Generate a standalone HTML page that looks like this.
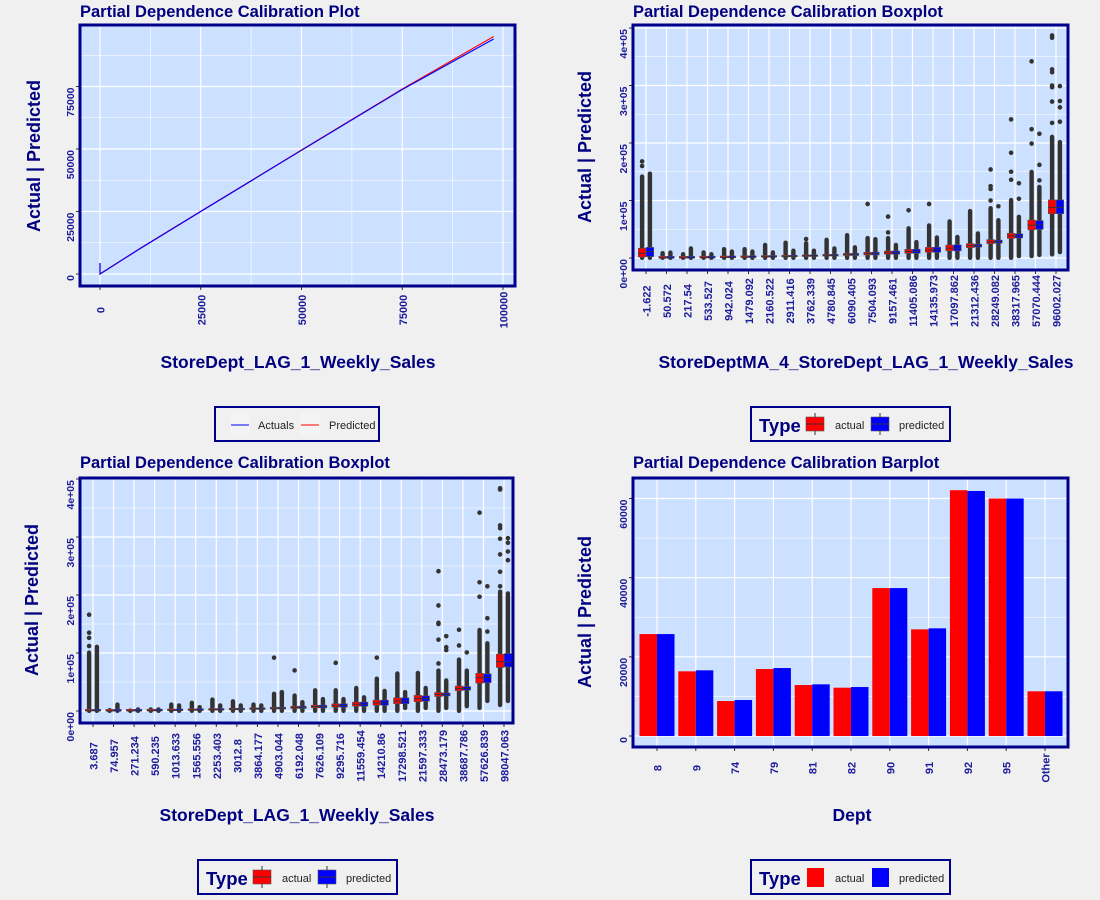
<!DOCTYPE html>
<html><head><meta charset="utf-8">
<style>
html,body{margin:0;padding:0;background:#f0f0f0;}
svg{display:block;font-family:"Liberation Sans",sans-serif;}
</style></head>
<body>
<svg id="chart" width="1100" height="900" viewBox="0 0 1100 900" xmlns="http://www.w3.org/2000/svg"></svg>
<script>
// ---------- Top-left line chart data ----------
const tlX = [0, 0, 10000, 25000, 50000, 75000, 97700];
const tlActual = [4400, 0, 10200, 25000, 49500, 73800, 94000];
const tlPredicted = [4400, 0, 10300, 25100, 49600, 74000, 95000];
const tlXTicks = [0, 25000, 50000, 75000, 100000];
const tlYTicks = [0, 25000, 50000, 75000];

// ---------- Top-right boxplot data ----------
const trCats = ["-1.622","50.572","217.54","533.527","942.024","1479.092","2160.522","2911.416","3762.339","4780.845","6090.405","7504.093","9157.461","11405.086","14135.973","17097.862","21312.436","28249.082","38317.965","57070.444","96002.027"];
const trAQ1 = [1700,20,100,300,600,1000,1500,2000,2700,3500,4400,5400,6600,8200,10000,12500,18000,25000,34000,49000,77000];
const trAMed = [8000,50,220,530,940,1480,2160,2910,3760,4780,6090,7500,9160,11400,14100,17100,21300,28200,38300,57000,88000];
const trAQ3 = [17000,100,350,800,1300,2000,2900,3900,5000,6300,8000,9900,12000,15000,18500,22500,25000,32000,43000,66000,101000];
const trALo = [0,0,0,0,0,0,0,0,0,0,0,0,0,0,0,0,0,0,0,3000,6000];
const trAHi = [142000,8700,7000,10000,15600,15600,23000,27000,26000,32000,40000,35000,35000,52000,57000,64000,82000,87000,101000,150000,211000];
const trAOut = [[0,168000],[0,160000],[8,33000],[11,94000],[12,44500],[12,72000],[13,83000],[14,94000],[17,100000],[17,120000],[17,125000],[17,154000],[18,136000],[18,150000],[18,183000],[18,241000],[19,199000],[19,224000],[19,342000],[20,235000],[20,272000],[20,297000],[20,300000],[20,323000],[20,328000],[20,383000],[20,387000]];
const trPQ1 = [2500,20,100,300,600,1000,1500,2000,2700,3500,4400,5400,6600,8200,10000,12500,19000,26000,35000,50000,77000];
const trPMed = [11000,60,230,540,950,1500,2200,2950,3800,4800,6100,7600,9200,11500,14200,17200,21500,28500,38500,57500,88000];
const trPQ3 = [18500,110,360,820,1350,2050,2950,3950,5100,6400,8100,10000,12100,15200,18700,22700,24000,31000,42000,65000,101000];
const trPLo = [0,0,0,0,0,0,0,0,0,0,0,0,0,0,0,0,0,0,3000,5000,10000];
const trPHi = [147000,9800,17000,7000,11500,11500,10000,13000,13000,17000,19000,33000,23000,28000,36000,37000,43000,66000,72000,124000,202000];
const trPOut = [[17,90000],[18,103000],[18,130000],[19,135000],[19,162000],[19,216000],[20,237000],[20,262000],[20,273000],[20,299000]];
const boxYTicks = [0,100000,200000,300000,400000];
const boxYLabels = ["0e+00","1e+05","2e+05","3e+05","4e+05"];

// ---------- Bottom-left boxplot data ----------
const blCats = ["3.687","74.957","271.234","590.235","1013.633","1565.556","2253.403","3012.8","3864.177","4903.044","6192.048","7626.109","9295.716","11559.454","14210.86","17298.521","21597.333","28473.179","38687.786","57626.839","98047.063"];
const blAQ1 = [100,30,120,300,600,1000,1500,2000,2700,3500,4400,5500,6700,8300,10000,12600,16000,25000,35000,48000,75000];
const blAMed = [500,75,270,590,1010,1570,2250,3010,3860,4900,6190,7630,9300,11560,14210,17300,21600,28500,38700,57600,85000];
const blAQ3 = [1500,120,400,850,1400,2100,3000,4000,5100,6500,8200,10000,12300,15300,18700,22700,27000,32000,43000,65000,98000];
const blALo = [0,0,0,0,0,0,0,0,0,0,0,0,0,0,0,0,0,0,0,5000,10000];
const blAHi = [101000,1700,1000,3000,11500,14500,20000,17000,11500,30000,27000,36000,36000,40000,56000,65000,66000,70000,89000,140000,206000];
const blAOut = [[0,112000],[0,126000],[0,135000],[0,166000],[9,92000],[10,70000],[12,83000],[14,92000],[17,82000],[17,123000],[17,150000],[17,152000],[17,182000],[17,241000],[18,113000],[18,140000],[19,197000],[19,222000],[19,342000],[20,215000],[20,240000],[20,270000],[20,297000],[20,315000],[20,320000],[20,382000],[20,384000]];
const blPQ1 = [100,30,120,300,600,1000,1500,2000,2700,3500,4400,5500,6700,8300,10000,12600,17000,26000,36000,49000,76000];
const blPMed = [600,80,280,600,1020,1580,2260,3020,3870,4910,6200,7640,9310,11570,14220,17310,21610,28600,38800,57700,84000];
const blPQ3 = [1600,130,410,860,1410,2110,3010,4010,5110,6510,8210,10010,12310,15310,18710,22710,26000,31000,42000,64000,99000];
const blPLo = [0,0,0,0,0,0,0,0,0,0,0,0,0,0,0,5000,5000,5000,8000,17000,17000];
const blPHi = [111000,11500,3000,3000,10000,7000,10000,10000,10000,33000,15600,21000,21000,24000,35000,33000,40000,53000,70000,117000,203000];
const blPOut = [[9,32000],[17,105000],[17,110000],[17,129000],[18,101000],[19,137000],[19,160000],[19,215000],[20,260000],[20,275000],[20,290000],[20,298000]];

// ---------- Bottom-right barplot data ----------
const brCats = ["8","9","74","79","81","82","90","91","92","95","Other"];
const brActual = [25750,16340,8840,16920,12880,12200,37370,26940,62100,60000,11290];
const brPredicted = [25750,16590,9090,17170,13050,12370,37370,27200,61900,60000,11290];
const brYTicks = [0,20000,40000,60000];

const NS = 'http://www.w3.org/2000/svg';
const svg = document.getElementById('chart');
function mk(tag, attrs, parent){
  const e = document.createElementNS(NS, tag);
  for (const k in attrs) e.setAttribute(k, attrs[k]);
  (parent || svg).appendChild(e);
  return e;
}
function txt(s, attrs, parent){ const e = mk('text', attrs, parent); e.textContent = s; return e; }
function lin(d0,d1,r0,r1){ return v => r0 + (v-d0)/(d1-d0)*(r1-r0); }
const NAVY = '#0a0a80';
const TICKC = '#1c1c9c';

function panelBase(name, r, title, ytitle, ytx, yty, xtitle, xtx, xty){
  const g = mk('g', {});
  
  
  const bg = mk('rect', {x:r.x, y:r.y, width:r.w, height:r.h, fill:'#cce0ff'}, g);
  
  
  const t = txt(title, {x:r.x, y:r.ty, 'font-size':16.5, 'font-weight':'bold', fill:'#000080'}, g);
  
  
  const yt = txt(ytitle, {x:ytx, y:yty, 'font-size':18, 'font-weight':'bold', fill:'#000080', 'text-anchor':'middle', transform:`rotate(-90 ${ytx} ${yty})`}, g);
  
  
  const xt = txt(xtitle, {x:xtx, y:xty, 'font-size':17.5, 'font-weight':'bold', fill:'#000080', 'text-anchor':'middle'}, g);
  
  
  return g;
}
function hgrid(g, r, y, major){
  const l = mk('line', {x1:r.x, x2:r.x+r.w, y1:y, y2:y, stroke:'#fff', 'stroke-width':major?1.2:0.6}, g);
  
  
}
function vgrid(g, r, x, major){
  const l = mk('line', {x1:x, x2:x, y1:r.y, y2:r.y+r.h, stroke:'#fff', 'stroke-width':major?1.2:0.6}, g);
  
  
}
function ytick(g, r, y, label){
  const tk = mk('line', {x1:r.x-4, x2:r.x, y1:y, y2:y, stroke:'#333', 'stroke-width':1}, g);
  
  
  const bx = r.x - 6;
  const t = txt(label, {x:bx, y:y+1, 'font-size':10.5, 'font-weight':'bold', fill:TICKC, 'text-anchor':'end', transform:`rotate(-90 ${bx} ${y+1})`}, g);
  
  
}
function xtick(g, r, x, label, midY){
  const tk = mk('line', {x1:x, x2:x, y1:r.y+r.h, y2:r.y+r.h+4, stroke:'#333', 'stroke-width':1}, g);
  
  
  const bx = x + 4.5;
  const t = txt(label, {x:bx, y:midY, 'font-size':11, 'font-weight':'bold', fill:TICKC, 'text-anchor':'middle', transform:`rotate(-90 ${bx} ${midY})`}, g);
  
  
}
function border(g, r){
  const b = mk('rect', {x:r.x, y:r.y, width:r.w, height:r.h, fill:'none', stroke:'#00008b', 'stroke-width':3}, g);
  
  
}
function legendBox(x, y, w, h, name){
  const g = mk('g', {});
  
  
  const b = mk('rect', {x:x, y:y, width:w, height:h, fill:'#f0f0f0', stroke:'#00008b', 'stroke-width':2}, g);
  
  
  return g;
}

// ================= TOP LEFT =================
(function(){
  const r = {x:80, y:25, w:435, h:261, ty:17};
  const g = panelBase('line-calibration-panel', r, 'Partial Dependence Calibration Plot', 'Actual | Predicted', 40, 156, 'StoreDept_LAG_1_Weekly_Sales', 298, 368);
  const xS = lin(0, 100000, 100, 503);
  const yS = lin(0, 75000, 274, 86.5);
  [12500,37500,62500,87500].forEach(v => vgrid(g, r, xS(v), false));
  [12500,37500,62500,87500].forEach(v => hgrid(g, r, yS(v), false));
  tlXTicks.forEach(v => vgrid(g, r, xS(v), true));
  tlYTicks.forEach(v => hgrid(g, r, yS(v), true));
  const mkPath = (ys) => tlX.map((x,i) => (i?'L':'M') + xS(x).toFixed(1) + ' ' + yS(ys[i]).toFixed(1)).join(' ');
  const pr = mk('path', {d:mkPath(tlPredicted), fill:'none', stroke:'#ff0000', 'stroke-width':1.2}, g);
  
  
  const ac = mk('path', {d:mkPath(tlActual), fill:'none', stroke:'#0000ff', 'stroke-width':1.1}, g);
  
  
  tlYTicks.forEach(v => ytick(g, r, yS(v), String(v)));
  tlXTicks.forEach(v => xtick(g, r, xS(v), String(v), 310));
  border(g, r);
  const L = legendBox(215, 407, 164, 34, 'line-legend');
  const k1 = mk('rect', {x:230, y:413, width:20, height:22, fill:'#f4f4f4'}, L);
  
  
  mk('line', {x1:231, x2:249, y1:425, y2:425, stroke:'#0000ff', 'stroke-width':1}, L);
  const t1 = txt('Actuals', {x:258, y:429, 'font-size':11, fill:'#222'}, L);
  
  
  const k2 = mk('rect', {x:300, y:413, width:20, height:22, fill:'#f4f4f4'}, L);
  
  
  mk('line', {x1:301, x2:319, y1:425, y2:425, stroke:'#ff0000', 'stroke-width':1}, L);
  const t2 = txt('Predicted', {x:329, y:429, 'font-size':11, fill:'#222'}, L);
  
  
})();

// ================= BOXPLOT helper =================
function drawBoxes(g, cats, cx, yS, series){
  series.forEach(s => {
    cats.forEach((c, i) => {
      const x = cx(i) + s.off;
      const col = mk('rect', {x:x-2.2, y:yS(s.hi[i]) - 2, width:4.4, height:Math.max(2, yS(s.lo[i]) - yS(s.hi[i]) + 4), rx:2.2, fill:'#333'}, g);
      
      
    });
    s.out.forEach(o => {
      const p = mk('circle', {cx:cx(o[0]) + s.off, cy:yS(o[1]), r:2.3, fill:'#333'}, g);
      
      
    });
    cats.forEach((c, i) => {
      const x = cx(i) + s.off;
      const top = yS(s.q3[i]), bot = yS(s.q1[i]);
      const h = Math.max(1.6, bot - top);
      const b = mk('rect', {x:x-3.8, y:bot - h, width:7.6, height:h, fill:s.color, stroke:'#555', 'stroke-width':0.6}, g);
      
      
      const m = mk('line', {x1:x-3.8, x2:x+3.8, y1:yS(s.med[i]), y2:yS(s.med[i]), stroke:'#333', 'stroke-width':1}, g);
      
      
    });
  });
}
function boxLegend(x, y, name){
  const L = legendBox(x, y, 199, 34, name);
  const t = txt('Type', {x:x+8, y:y+25, 'font-size':18.5, 'font-weight':'bold', fill:'#000080'}, L);
  
  
  [['actual','#ff0000',x+55,x+84],['predicted','#0000ff',x+120,x+148]].forEach(e => {
    const kx = e[2];
    mk('line', {x1:kx+9, x2:kx+9, y1:y+6, y2:y+28, stroke:'#333', 'stroke-width':1}, L);
    const k = mk('rect', {x:kx, y:y+10, width:18, height:14, fill:e[1], stroke:'#555', 'stroke-width':0.6}, L);
    
    
    mk('line', {x1:kx, x2:kx+18, y1:y+17, y2:y+17, stroke:'#333', 'stroke-width':1}, L);
    const lt = txt(e[0], {x:e[3], y:y+22, 'font-size':11, fill:'#222'}, L);
    
    
  });
}

// ================= TOP RIGHT =================
(function(){
  const r = {x:633, y:25, w:435, h:245, ty:17};
  const g = panelBase('boxplot-ma4-panel', r, 'Partial Dependence Calibration Boxplot', 'Actual | Predicted', 591, 147, 'StoreDeptMA_4_StoreDept_LAG_1_Weekly_Sales', 866, 368);
  const cx = i => 646 + i * 20.5;
  const yS = lin(0, 400000, 258, 28);
  [50000,150000,250000,350000].forEach(v => hgrid(g, r, yS(v), false));
  boxYTicks.forEach(v => hgrid(g, r, yS(v), true));
  trCats.forEach((c,i) => vgrid(g, r, cx(i), true));
  drawBoxes(g, trCats, cx, yS, [
    {name:'actual', off:-3.9, color:'#ff0000', q1:trAQ1, med:trAMed, q3:trAQ3, lo:trALo, hi:trAHi, out:trAOut},
    {name:'predicted', off:3.9, color:'#0000ff', q1:trPQ1, med:trPMed, q3:trPQ3, lo:trPLo, hi:trPHi, out:trPOut}
  ]);
  boxYTicks.forEach((v,i) => ytick(g, r, yS(v), boxYLabels[i]));
  trCats.forEach((c,i) => xtick(g, r, cx(i), c, 301));
  border(g, r);
  boxLegend(751, 407, 'boxplot-ma4-legend');
})();

// ================= BOTTOM LEFT =================
(function(){
  const r = {x:80, y:478, w:433, h:245, ty:468};
  const g = panelBase('boxplot-lag1-panel', r, 'Partial Dependence Calibration Boxplot', 'Actual | Predicted', 38, 600, 'StoreDept_LAG_1_Weekly_Sales', 297, 821);
  const cx = i => 93 + i * 20.55;
  const yS = lin(0, 400000, 711, 479);
  [50000,150000,250000,350000].forEach(v => hgrid(g, r, yS(v), false));
  boxYTicks.forEach(v => hgrid(g, r, yS(v), true));
  blCats.forEach((c,i) => vgrid(g, r, cx(i), true));
  drawBoxes(g, blCats, cx, yS, [
    {name:'actual', off:-3.9, color:'#ff0000', q1:blAQ1, med:blAMed, q3:blAQ3, lo:blALo, hi:blAHi, out:blAOut},
    {name:'predicted', off:3.9, color:'#0000ff', q1:blPQ1, med:blPMed, q3:blPQ3, lo:blPLo, hi:blPHi, out:blPOut}
  ]);
  boxYTicks.forEach((v,i) => ytick(g, r, yS(v), boxYLabels[i]));
  blCats.forEach((c,i) => xtick(g, r, cx(i), c, 756));
  border(g, r);
  boxLegend(198, 860, 'boxplot-lag1-legend');
})();

// ================= BOTTOM RIGHT =================
(function(){
  const r = {x:633, y:478, w:435, h:269, ty:468};
  const g = panelBase('barplot-dept-panel', r, 'Partial Dependence Calibration Barplot', 'Actual | Predicted', 591, 612, 'Dept', 852, 821);
  const cx = i => 657 + i * 38.8;
  const yS = lin(0, 60000, 736, 498.5);
  [10000,30000,50000].forEach(v => hgrid(g, r, yS(v), false));
  brYTicks.forEach(v => hgrid(g, r, yS(v), true));
  brCats.forEach((c,i) => vgrid(g, r, cx(i), true));
  const bw = 17.5;
  brCats.forEach((c,i) => {
    const a = mk('rect', {x:cx(i)-bw, y:yS(brActual[i]), width:bw, height:yS(0)-yS(brActual[i]), fill:'#ff0000'}, g);
    
    
    const p = mk('rect', {x:cx(i), y:yS(brPredicted[i]), width:bw, height:yS(0)-yS(brPredicted[i]), fill:'#0000ff'}, g);
    
    
  });
  brYTicks.forEach(v => ytick(g, r, yS(v), String(v)));
  brCats.forEach((c,i) => xtick(g, r, cx(i), c, 768));
  border(g, r);
  const L = legendBox(751, 860, 199, 34, 'barplot-legend');
  const t = txt('Type', {x:759, y:885, 'font-size':18.5, 'font-weight':'bold', fill:'#000080'}, L);
  
  
  const k1 = mk('rect', {x:807, y:868, width:17, height:19, fill:'#ff0000'}, L);
  
  
  const l1 = txt('actual', {x:835, y:882, 'font-size':11, fill:'#222'}, L);
  
  
  const k2 = mk('rect', {x:872, y:868, width:17, height:19, fill:'#0000ff'}, L);
  
  
  const l2 = txt('predicted', {x:899, y:882, 'font-size':11, fill:'#222'}, L);
  
  
})();
</script>
</body></html>
